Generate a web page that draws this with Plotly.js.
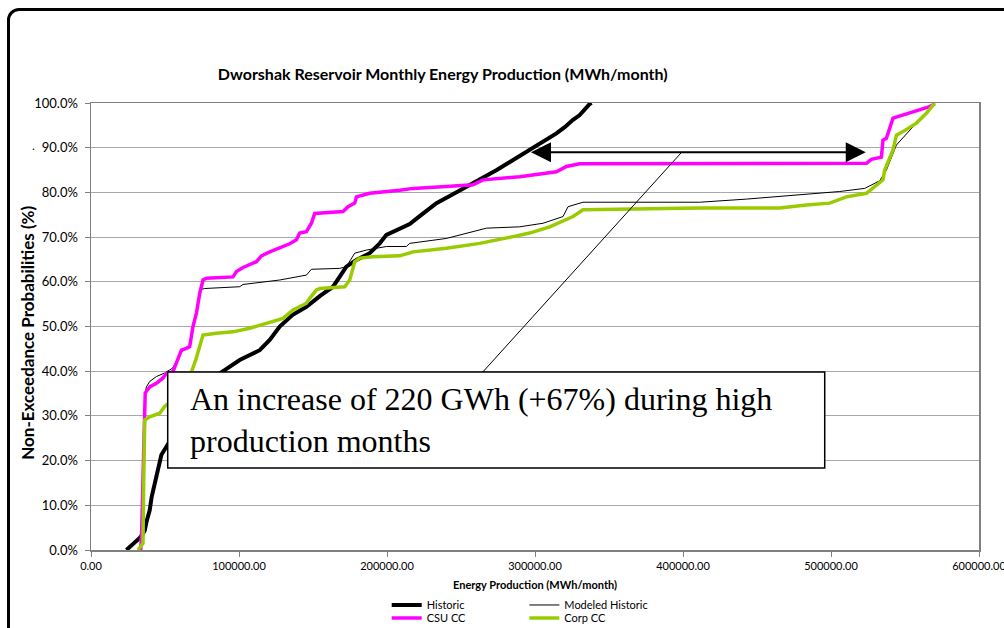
<!DOCTYPE html>
<html>
<head>
<meta charset="utf-8">
<script src="https://cdn.plot.ly/plotly-3.0.1.min.js"></script>
<style>
  html, body { margin: 0; padding: 0; background: #fff; overflow: hidden; }
  #wrap { position: relative; width: 1004px; height: 628px; }
  #chart { position: absolute; left: 0; top: 0; width: 1004px; height: 628px; }
  #frame { position: absolute; left: 7px; top: 8px; width: 1020px; height: 650px;
           border: 3px solid #000; border-radius: 12px; pointer-events: none; box-sizing: border-box; }
</style>
</head>
<body>
<div id="wrap">
  <div id="chart"></div>
  <div id="frame"></div>
</div>
<script>
// ---- Data (MWh/month vs non-exceedance probability) ----
const historicX = [23920,26830,29530,32910,34930,36280,37640,39660,41010,43040,45070,47570,50950,59930,70070,78850,86960,100470,108590,113990,120750,127510,136290,145540,154580,163520,172570,179330,188320,195080,199600,204060,208590,215340,222100,233390,242380,252510,262650,274140,284940,298450,306560,314470,320080,325480,330210,334740,336970,338320];
const historicY = [0,0.009,0.016,0.027,0.036,0.043,0.065,0.089,0.119,0.150,0.183,0.213,0.231,0.280,0.324,0.362,0.395,0.425,0.438,0.447,0.470,0.500,0.526,0.544,0.568,0.589,0.634,0.649,0.664,0.686,0.705,0.712,0.717,0.729,0.747,0.776,0.792,0.810,0.828,0.850,0.872,0.899,0.915,0.932,0.946,0.962,0.973,0.992,0.998,1.0];

const modeledX = [33580,34260,34930,35610,36290,37430,39660,44190,49800,55200,61080,66690,71220,73450,76830,100470,102700,127510,138790,145540,148920,168050,172570,178180,186090,192840,199600,213110,215340,240140,267170,289670,305420,318930,322310,332450,411300,442850,465350,505890,522780,532920,537450,544200,555420,564470,570080];
const modeledY = [0,0.045,0.157,0.291,0.347,0.365,0.377,0.388,0.396,0.407,0.443,0.456,0.528,0.582,0.585,0.589,0.594,0.604,0.611,0.615,0.628,0.630,0.634,0.664,0.671,0.675,0.679,0.679,0.686,0.697,0.720,0.723,0.731,0.746,0.768,0.778,0.778,0.785,0.791,0.802,0.809,0.826,0.850,0.906,0.947,0.981,0.998];

const csuX = [33580,34260,34930,35610,36290,36620,39660,44190,48650,50950,55410,57710,61080,64460,66690,68920,71220,73450,75680,77980,95950,98250,102700,111760,115140,120750,127510,134260,138790,141020,145540,148920,151150,170280,173660,178180,179330,188320,208590,217570,240140,258110,264870,289670,314470,321230,330210,411300,523920,527300,534050,535130,537430,541900,555420,566640,570080];
const csuY = [0,0.045,0.134,0.246,0.336,0.351,0.365,0.373,0.385,0.395,0.399,0.418,0.447,0.451,0.455,0.500,0.530,0.574,0.604,0.608,0.611,0.623,0.632,0.645,0.658,0.667,0.675,0.685,0.694,0.709,0.712,0.731,0.753,0.757,0.768,0.776,0.790,0.798,0.805,0.809,0.813,0.817,0.828,0.835,0.846,0.858,0.864,0.864,0.865,0.874,0.879,0.917,0.921,0.966,0.981,0.992,0.998];

const corpX = [31760,35130,35610,36290,39660,46420,49800,56560,63310,67840,70750,73450,75680,84730,95950,107230,122980,129730,136490,145540,147780,152300,154580,171430,174810,178180,181560,190550,208590,217570,240140,262650,285140,296420,309930,325680,332450,411300,465350,483400,499140,510390,523920,530680,535130,536290,541900,544200,548660,557700,564470,570080];
const corpY = [0,0.015,0.157,0.291,0.298,0.306,0.321,0.340,0.369,0.398,0.425,0.455,0.481,0.485,0.488,0.496,0.511,0.518,0.537,0.552,0.563,0.582,0.585,0.589,0.604,0.645,0.653,0.656,0.658,0.667,0.675,0.686,0.701,0.709,0.723,0.746,0.761,0.765,0.765,0.772,0.776,0.790,0.798,0.817,0.828,0.850,0.895,0.928,0.936,0.955,0.977,1.0];

const seriesNames = ["Historic", "Modeled Historic", "CSU CC", "Corp CC"];
const xTickVals = [0, 100000, 200000, 300000, 400000, 500000, 600000];
const xTickText = ["0.00", "100000.00", "200000.00", "300000.00", "400000.00", "500000.00", "600000.00"];
const yTickVals = [0, 0.1, 0.2, 0.3, 0.4, 0.5, 0.6, 0.7, 0.8, 0.9, 1.0];
const yTickText = ["0.0%", "10.0%", "20.0%", "30.0%", "40.0%", "50.0%", "60.0%", "70.0%", "80.0%", "90.0%", "100.0%"];
const yTitleText = "Non-Exceedance Probabilities (%)";

// annotation content
const boxX = [51830, 495760];
const boxY = [0.1834, 0.398];
const arrowFrom = [296300, 0.890];
const arrowTo = [523500, 0.890];
const leaderFrom = [264670, 0.398];
const leaderTo = [399130, 0.890];
const noteText = "An increase of 220 GWh (+67%) during high<br>production months";

const FONT = "Lato, 'Open Sans', sans-serif";

const traces = [
  {x: historicX, y: historicY, name: seriesNames[0], mode: "lines",
   line: {color: "#000000", width: 4}, legend: "legend"},
  {x: modeledX, y: modeledY, name: seriesNames[1], mode: "lines",
   line: {color: "#000000", width: 1}, legend: "legend2"},
  {x: csuX, y: csuY, name: seriesNames[2], mode: "lines",
   line: {color: "#ff00ff", width: 3.5}, legend: "legend3"},
  {x: corpX, y: corpY, name: seriesNames[3], mode: "lines",
   line: {color: "#99cc00", width: 3.5}, legend: "legend4"}
];

function legendAt(x, y) {
  return {x: x, y: y, xanchor: "left", yanchor: "middle", bgcolor: "rgba(0,0,0,0)",
          borderwidth: 0, font: {family: FONT, size: 11, color: "#000"}, tracegroupgap: 0};
}

const layout = {
  width: 1004, height: 628,
  margin: {l: 91, r: 25, t: 103, b: 78, autoexpand: false},
  paper_bgcolor: "#ffffff", plot_bgcolor: "#ffffff",
  showlegend: true,
  title: {text: "Dworshak Reservoir Monthly Energy Production (MWh/month)",
          font: {family: FONT, size: 16, color: "#000", weight: "bold"},
          xref: "container", yref: "container", x: 0.441, y: 0.881,
          xanchor: "center", yanchor: "middle"},
  xaxis: {range: [0, 600000.5], tickvals: xTickVals, ticktext: xTickText,
          showgrid: false, zeroline: false, showline: true, mirror: true,
          linecolor: "#808080", linewidth: 1.5, ticklabeloverflow: "allow",
          ticks: "outside", ticklen: 5, tickcolor: "#808080",
          tickfont: {family: FONT, size: 11, color: "#000"},
          title: {text: "Energy Production (MWh/month)",
                  font: {family: FONT, size: 11, color: "#000", weight: "bold"}, standoff: 10}},
  yaxis: {range: [0, 1.0], tickvals: yTickVals, ticktext: yTickText,
          showgrid: true, gridcolor: "#a8a8a8", gridwidth: 1, zeroline: false,
          showline: true, mirror: true, linecolor: "#808080", linewidth: 1.5,
          ticks: "outside", ticklen: 5, tickcolor: "#808080", ticklabelstandoff: 4,
          tickfont: {family: FONT, size: 13, color: "#000"}},
  legend: legendAt(0.333, -0.123),
  legend2: legendAt(0.488, -0.123),
  legend3: legendAt(0.333, -0.152),
  legend4: legendAt(0.488, -0.152),
  shapes: [
    {type: "line", xref: "x", yref: "y", x0: leaderFrom[0], y0: leaderFrom[1],
     x1: leaderTo[0], y1: leaderTo[1], line: {color: "#000", width: 1}, layer: "above"},
    {type: "rect", xref: "x", yref: "y", x0: boxX[0], x1: boxX[1], y0: boxY[0], y1: boxY[1],
     fillcolor: "#ffffff", line: {color: "#000", width: 1.5}, layer: "above"}
  ],
  annotations: [
    {xref: "x", yref: "y", x: arrowTo[0], y: arrowTo[1], ax: arrowFrom[0], ay: arrowFrom[1],
     axref: "x", ayref: "y", text: "", showarrow: true, arrowside: "end+start",
     arrowhead: 2, arrowsize: 2, arrowwidth: 2, arrowcolor: "#000", standoff: 0, startstandoff: 0},
    {xref: "x", yref: "y", x: 65340, y: 0.291, xanchor: "left", yanchor: "middle", align: "left",
     text: noteText, showarrow: false,
     font: {family: "'Liberation Serif', 'Times New Roman', serif", size: 32, color: "#000"}},
    {xref: "paper", yref: "paper", x: -0.0709, y: 0.486, xanchor: "center", yanchor: "middle",
     text: yTitleText, textangle: -90, showarrow: false,
     font: {family: FONT, size: 17, color: "#000", weight: "bold"}},
    {xref: "paper", yref: "paper", x: -0.065, y: 0.906, xanchor: "center", yanchor: "middle",
     text: ".", showarrow: false, font: {family: FONT, size: 12, color: "#000"}}
  ]
};

Plotly.newPlot("chart", traces, layout, {displayModeBar: false, staticPlot: true});
</script>
</body>
</html>
